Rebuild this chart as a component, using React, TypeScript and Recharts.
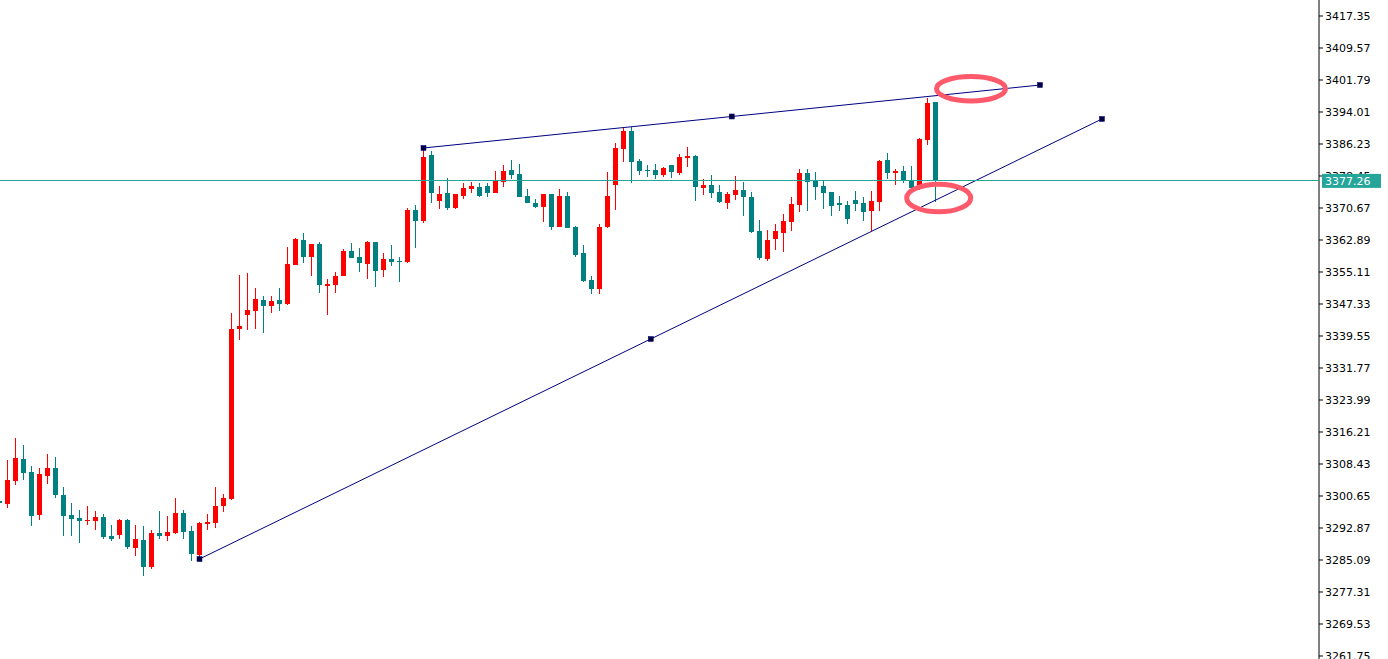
import React from 'react';
import { ComposedChart, Bar, XAxis, YAxis, ReferenceLine, ReferenceDot } from 'recharts';

const OPEN = [
  3299.50, 3298.70, 3304.29, 3309.64, 3306.48, 3296.03, 3305.58, 3307.38, 3300.89, 3296.03,
  3295.30, 3294.64, 3294.64, 3295.54, 3290.92, 3291.17, 3294.81, 3288.08, 3289.95, 3283.46,
  3291.65, 3291.00, 3291.73, 3296.51, 3292.14, 3286.30, 3293.91, 3294.16, 3298.22, 3299.92,
  3341.32, 3344.73, 3345.70, 3348.30, 3346.92, 3348.30, 3347.40, 3356.88, 3362.89, 3358.83,
  3361.92, 3351.78, 3352.02, 3354.21, 3360.21, 3358.76, 3357.13, 3362.40, 3355.67, 3358.27,
  3357.78, 3357.61, 3370.18, 3367.58, 3383.56, 3372.44, 3374.32, 3370.67, 3373.66, 3375.29,
  3375.78, 3376.02, 3374.32, 3377.06, 3379.91, 3378.94, 3373.59, 3371.89, 3370.91, 3374.07,
  3366.12, 3373.59, 3366.05, 3359.73, 3353.16, 3350.98, 3366.05, 3376.26, 3385.01, 3389.39,
  3382.10, 3379.91, 3379.91, 3378.69, 3381.12, 3379.18, 3382.90, 3383.31, 3375.60, 3376.26,
  3374.63, 3371.96, 3373.90, 3375.05, 3373.34, 3365.08, 3358.34, 3363.21, 3364.66, 3367.34,
  3371.47, 3379.18, 3377.23, 3376.02, 3374.56, 3371.96, 3371.47, 3372.61, 3371.96, 3369.94,
  3372.20, 3382.34, 3379.25, 3379.67, 3377.48, 3375.78, 3387.20, 3396.44,
];
const HIGH = [
  3299.92, 3309.40, 3314.82, 3313.05, 3307.94, 3307.38, 3310.86, 3310.13, 3302.91, 3299.02,
  3297.24, 3298.22, 3297.07, 3296.27, 3293.60, 3295.13, 3295.13, 3293.60, 3293.35, 3292.38,
  3297.00, 3295.79, 3300.16, 3297.24, 3293.35, 3294.33, 3296.27, 3302.91, 3301.13, 3345.07,
  3354.38, 3354.87, 3351.22, 3349.27, 3349.27, 3351.22, 3361.26, 3363.38, 3364.59, 3362.00,
  3362.40, 3353.41, 3355.11, 3360.70, 3362.16, 3360.94, 3362.65, 3362.45, 3359.73, 3361.67,
  3358.76, 3370.67, 3371.40, 3385.26, 3384.53, 3376.02, 3377.96, 3374.10, 3376.75, 3376.99,
  3376.75, 3376.75, 3379.67, 3381.20, 3382.34, 3381.37, 3375.29, 3372.86, 3374.10, 3374.10,
  3375.29, 3374.56, 3366.29, 3361.67, 3354.14, 3366.71, 3379.50, 3386.47, 3390.12, 3390.36,
  3382.58, 3381.12, 3381.37, 3380.64, 3381.15, 3383.80, 3385.50, 3383.56, 3377.72, 3378.69,
  3376.26, 3374.63, 3378.52, 3377.06, 3374.49, 3367.75, 3365.32, 3366.78, 3369.21, 3373.42,
  3380.08, 3380.08, 3379.42, 3377.48, 3374.60, 3373.66, 3372.44, 3374.80, 3373.42, 3374.80,
  3382.34, 3384.04, 3380.15, 3380.88, 3380.88, 3387.69, 3397.41, 3396.50,
];
const LOW = [
  3298.46, 3297.73, 3303.32, 3304.54, 3293.35, 3294.81, 3303.57, 3300.23, 3290.92, 3290.92,
  3289.29, 3293.60, 3292.38, 3290.27, 3289.78, 3290.12, 3287.76, 3286.13, 3281.27, 3282.90,
  3290.19, 3289.78, 3291.48, 3290.19, 3284.92, 3285.33, 3292.38, 3292.94, 3296.76, 3299.67,
  3338.58, 3341.01, 3341.25, 3340.28, 3345.14, 3345.63, 3347.20, 3356.70, 3357.30, 3354.21,
  3350.08, 3344.73, 3350.08, 3354.10, 3358.50, 3355.11, 3353.48, 3351.54, 3353.97, 3356.64,
  3352.75, 3357.37, 3360.94, 3366.95, 3371.81, 3370.50, 3370.18, 3370.50, 3372.86, 3374.32,
  3373.27, 3373.42, 3374.25, 3375.78, 3377.72, 3373.30, 3371.85, 3370.67, 3367.34, 3365.32,
  3366.10, 3365.78, 3358.83, 3352.60, 3349.83, 3349.83, 3365.73, 3370.18, 3381.85, 3376.75,
  3378.69, 3378.21, 3377.72, 3378.21, 3377.96, 3378.69, 3380.64, 3372.37, 3373.83, 3373.17,
  3371.96, 3370.50, 3372.69, 3368.80, 3364.66, 3358.03, 3357.86, 3360.46, 3360.04, 3365.15,
  3369.77, 3370.01, 3372.61, 3370.50, 3368.80, 3369.94, 3366.85, 3370.01, 3367.58, 3365.08,
  3369.94, 3377.79, 3376.26, 3376.67, 3374.56, 3375.05, 3385.99, 3372.20,
];
const CLOSE = [
  3298.87, 3304.54, 3309.89, 3306.31, 3295.86, 3306.00, 3307.38, 3300.89, 3295.86, 3295.13,
  3294.64, 3294.89, 3295.54, 3290.75, 3290.27, 3294.81, 3288.32, 3290.19, 3283.46, 3291.58,
  3291.00, 3291.90, 3296.51, 3291.97, 3286.62, 3294.08, 3294.33, 3298.22, 3300.16, 3341.25,
  3341.98, 3345.87, 3348.54, 3346.92, 3348.06, 3347.40, 3357.05, 3363.13, 3358.83, 3361.92,
  3352.02, 3352.19, 3354.14, 3360.21, 3358.59, 3357.37, 3362.40, 3355.43, 3358.27, 3357.61,
  3357.61, 3370.18, 3367.58, 3383.14, 3374.24, 3374.07, 3370.67, 3374.07, 3375.53, 3376.02,
  3373.66, 3374.32, 3377.48, 3379.67, 3378.69, 3373.34, 3371.89, 3370.91, 3374.07, 3365.98,
  3373.59, 3365.81, 3359.24, 3352.92, 3350.98, 3366.05, 3373.59, 3385.26, 3389.39, 3381.85,
  3379.67, 3379.67, 3378.69, 3380.39, 3379.42, 3383.07, 3383.31, 3375.78, 3376.26, 3374.39,
  3372.20, 3374.15, 3375.05, 3373.42, 3364.91, 3358.59, 3362.89, 3365.08, 3367.51, 3371.64,
  3379.18, 3377.06, 3375.85, 3374.39, 3371.23, 3371.47, 3368.07, 3371.71, 3369.70, 3372.37,
  3382.10, 3379.25, 3379.67, 3377.23, 3375.46, 3387.44, 3396.27, 3377.26,
];

const Y_TICKS = [
  3417.35, 3409.57, 3401.79, 3394.01, 3386.23, 3378.45, 3370.67, 3362.89, 3355.11, 3347.33,
  3339.55, 3331.77, 3323.99, 3316.21, 3308.43, 3300.65, 3292.87, 3285.09, 3277.31, 3269.53,
  3261.75,
];
const LAST_PRICE = 3377.26;

const UPPER_LINE = [
  { x: 53, y: 3385.26 },
  { x: 130.06, y: 3400.57 },
];
const LOWER_LINE = [
  { x: 25, y: 3285.33 },
  { x: 137.81, y: 3392.31 },
];
const LINE_MARKERS = [
  { x: 53, y: 3385.26 },
  { x: 91.53, y: 3392.92 },
  { x: 130.06, y: 3400.57 },
  { x: 25, y: 3285.33 },
  { x: 81.41, y: 3338.82 },
  { x: 137.81, y: 3392.31 },
];
const HIGHLIGHT_UPPER = { x: 121.44, y: 3399.67 };
const HIGHLIGHT_LOWER = { x: 117.4, y: 3373.1 };

const X_DOMAIN: [number, number] = [0.0625, 164.9375];
const Y_DOMAIN: [number, number] = [3261.02, 3421.24];

const UP_COLOR = '#ff0000';
const DOWN_COLOR = '#008080';
const TAG_COLOR = '#26a69a';
const FONT = '"DejaVu Sans", Verdana, sans-serif';

const rows = OPEN.map((o, i) => ({
  i,
  o,
  h: HIGH[i],
  l: LOW[i],
  c: CLOSE[i],
  range: [LOW[i], HIGH[i]],
}));

function Candle(props: any) {
  const { x, y, width, height, payload } = props;
  if (x == null || y == null || !payload) return null;
  const { o, h, l, c } = payload;
  const top0 = Math.min(y, y + height);
  const hh = Math.abs(height);
  const k = h - l > 0 ? hh / (h - l) : 0;
  const yOf = (v: number) => top0 + (h - v) * k;
  const cx = x + width / 2;
  const up = c >= o;
  const color = up ? UP_COLOR : DOWN_COLOR;
  const bt = yOf(Math.max(o, c));
  const bb = yOf(Math.min(o, c));
  const bh = Math.max(1, bb - bt);
  return (
    <g shapeRendering="crispEdges">
      <line x1={cx} x2={cx} y1={top0} y2={top0 + hh} stroke={color} strokeWidth={1} />
      <rect x={cx - 2.5} y={bt} width={5} height={bh} fill={color} />
    </g>
  );
}

const Marker = (props: any) => {
  const { cx, cy } = props;
  if (cx == null || cy == null) return null;
  return <rect x={cx - 2.5} y={cy - 2.5} width={5} height={5} fill="#000040" stroke="#000080" strokeWidth={0.5} />;
};

const makeEllipse = (rx: number, ry: number) => (props: any) => {
  const { cx, cy } = props;
  if (cx == null || cy == null) return null;
  return <ellipse cx={cx} cy={cy} rx={rx} ry={ry} fill="none" stroke="#ff5a6c" strokeWidth={5} />;
};

const PriceTag = (props: any) => {
  const vb = props.viewBox || {};
  const x0 = (vb.x || 0) + (vb.width || 0) + 3;
  const y0 = vb.y || 0;
  return (
    <g>
      <rect x={x0} y={y0 - 7} width={59} height={14} fill={TAG_COLOR} />
      <text x={x0 + 3} y={y0 + 4} fill="#ffffff" fontSize={11} fontFamily={FONT}>
        {LAST_PRICE.toFixed(2)}
      </text>
    </g>
  );
};

export default function App() {
  return (
    <div style={{ position: 'absolute', left: 0, top: 0, width: 1388, height: 659, background: '#fff', fontFamily: FONT }}>
      <ComposedChart width={1388} height={659} data={rows} margin={{ top: 0, right: 0, bottom: 0, left: 0 }}>
        <XAxis type="number" dataKey="i" domain={X_DOMAIN} allowDataOverflow hide />
        <YAxis
          orientation="right"
          type="number"
          domain={Y_DOMAIN}
          allowDataOverflow
          ticks={Y_TICKS}
          interval={0}
          width={69}
          tickSize={4}
          tickMargin={2}
          axisLine={{ stroke: '#000', strokeWidth: 1 }}
          tickLine={{ stroke: '#000', strokeWidth: 1 }}
          tick={{ fill: '#000', fontSize: 11, fontFamily: FONT }}
          tickFormatter={(v: number) => v.toFixed(2)}
        />
        <ReferenceLine
          y={LAST_PRICE}
          stroke={TAG_COLOR}
          strokeWidth={1}
          shapeRendering="crispEdges"
          zIndex={3000}
          label={<PriceTag />}
        />
        <Bar dataKey="range" shape={<Candle />} barSize={5} isAnimationActive={false} />
        <ReferenceLine segment={UPPER_LINE} stroke="#000080" strokeWidth={1} />
        <ReferenceLine segment={LOWER_LINE} stroke="#000080" strokeWidth={1} />
        {LINE_MARKERS.map((m, idx) => (
          <ReferenceDot key={idx} x={m.x} y={m.y} r={3} shape={<Marker />} />
        ))}
        <ReferenceDot x={HIGHLIGHT_UPPER.x} y={HIGHLIGHT_UPPER.y} r={30} shape={makeEllipse(34.5, 12.2)} />
        <ReferenceDot x={HIGHLIGHT_LOWER.x} y={HIGHLIGHT_LOWER.y} r={30} shape={makeEllipse(32, 13.8)} />
      </ComposedChart>
    </div>
  );
}
